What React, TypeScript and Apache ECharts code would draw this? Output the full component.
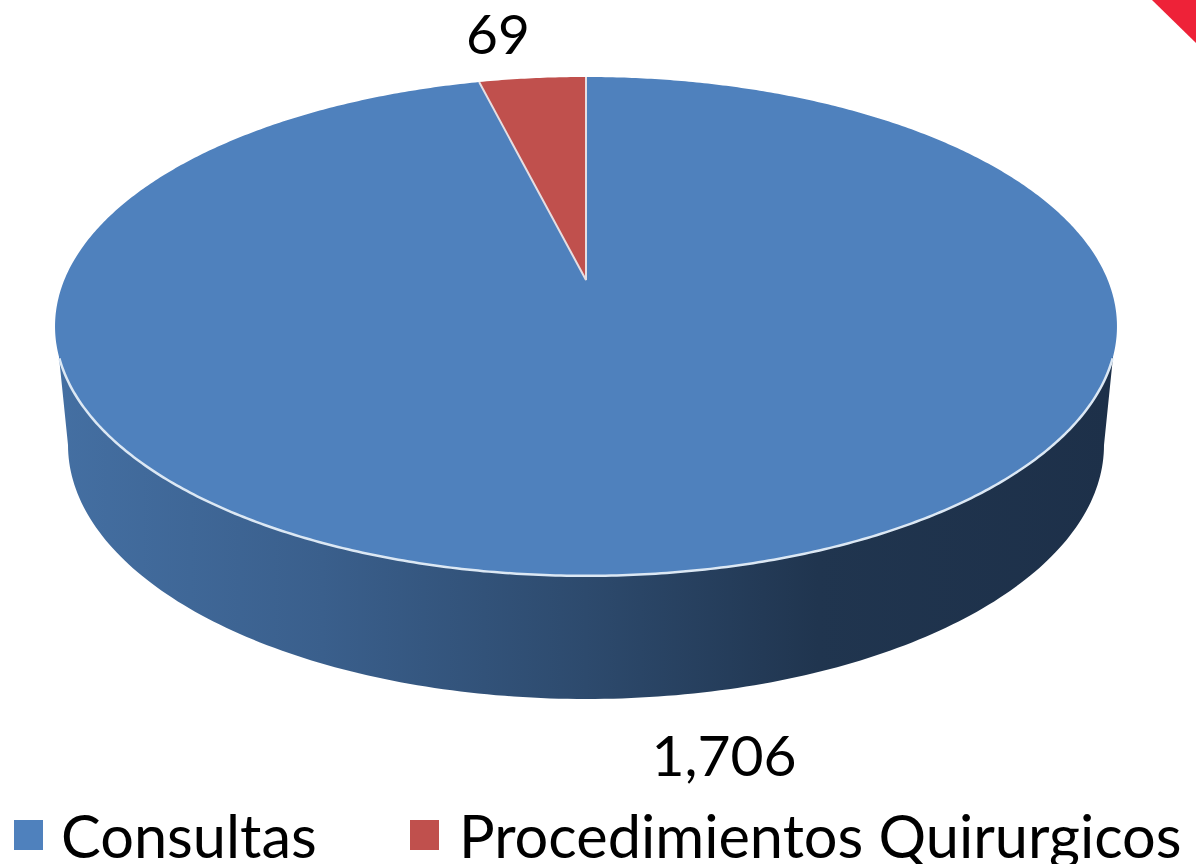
import React, { useEffect, useRef } from "react";
import * as echarts from "echarts";

const categories = ["Consultas", "Procedimientos Quirurgicos"];
const values = [1706, 69];
const valueLabels = ["1,706", "69"];
const colors = ["#4F81BD", "#C0504D"];

const FONT = "Lato";
const total = values.reduce((a, b) => a + b, 0);

// perspective projection of the pie's top disc
const CX = 586, VY = 280, A = 521.7, B = 240.8, K = 0.186;
const project = (deg: number): number[] => {
  const t = (deg * Math.PI) / 180;
  const x = Math.sin(t), y = Math.cos(t), d = 1 + K * y;
  return [CX + (A * x) / d, VY - (B * y) / d];
};
const arc = (from: number, to: number): number[][] => {
  const n = Math.max(2, Math.ceil(Math.abs(to - from) * 2));
  const pts: number[][] = [];
  for (let i = 0; i <= n; i++) pts.push(project(from + ((to - from) * i) / n));
  return pts;
};

const WALL_TOP = 357;
const wallPoints = (): number[][] => {
  const pts: number[][] = [];
  const cy = 445, a = 518, b = 254;
  for (let i = 0; i <= 180; i++) {
    const t = (i * Math.PI) / 180;
    pts.push([CX - a * Math.cos(t), cy + b * Math.sin(t)]);
  }
  pts.push([1113, WALL_TOP], [59, WALL_TOP]);
  return pts;
};

const labelPos = [
  { x: 724, y: 754, size: 57 },
  { x: 498, y: 33, size: 55 },
];

const makeRenderItem = (index: number) => (_params: any, api: any) => {
  const value = api.value(0);
  const start = (values.slice(0, index).reduce((a, b) => a + b, 0) / total) * 360;
  const end = start + (value / total) * 360;
  const rim = arc(start, end);
  const children: any[] = [];
  if (start <= 180 && end >= 180) {
    children.push({
      type: "polygon",
      shape: { points: wallPoints() },
      style: {
        fill: new echarts.graphic.LinearGradient(0, 0, 1, 0, [
          { offset: 0, color: "#446FA2" },
          { offset: 0.25, color: "#3A5F8C" },
          { offset: 0.5, color: "#2D4A6D" },
          { offset: 0.72, color: "#20354F" },
          { offset: 1, color: "#1D3049" },
        ]),
      },
    });
  }
  children.push({
    type: "polygon",
    shape: { points: [[CX, VY], ...rim] },
    style: { fill: colors[index] },
  });
  const front = rim.filter((p) => p[1] >= WALL_TOP);
  if (front.length > 1) {
    children.push({
      type: "polyline",
      shape: { points: front },
      style: { fill: "none", stroke: "#DCE8F4", lineWidth: 2.5 },
    });
  }
  if (index > 0) {
    children.push({
      type: "polyline",
      shape: { points: [rim[0], [CX, VY], rim[rim.length - 1]] },
      style: { fill: "none", stroke: "#E6DEE2", lineWidth: 2 },
    });
  }
  children.push({
    type: "text",
    style: {
      x: labelPos[index].x,
      y: labelPos[index].y,
      text: valueLabels[index],
      fill: "#000",
      font: `${labelPos[index].size}px ${FONT}`,
      align: "center",
      verticalAlign: "middle",
    },
  });
  return { type: "group", children };
};

export default function App() {
  const ref = useRef<HTMLDivElement>(null);
  useEffect(() => {
    const chart = echarts.init(ref.current!, null, { renderer: "svg" });
    const legendBase = {
      top: 800,
      itemWidth: 29,
      itemHeight: 30,
      icon: "rect",
    };
    const legendText = (gap: number) => ({
      fontFamily: FONT,
      fontSize: 59.5,
      color: "#000",
      padding: [0, 0, 0, gap],
    });
    chart.setOption({
      animation: false,
      backgroundColor: "#fff",
      legend: [
        { ...legendBase, left: 9, data: [categories[0]], textStyle: legendText(13) },
        { ...legendBase, left: 405, data: [categories[1]], textStyle: legendText(15) },
      ],
      graphic: [
        {
          type: "polygon",
          shape: { points: [[1152, 0], [1196, 0], [1196, 43]] },
          style: { fill: "#EE2238" },
        },
      ],
      series: categories.map((name, i) => ({
        type: "custom",
        name,
        coordinateSystem: "none",
        itemStyle: { color: colors[i] },
        renderItem: makeRenderItem(i),
        data: [[values[i]]],
      })),
    });
    return () => chart.dispose();
  }, []);
  return (
    <div
      ref={ref}
      style={{ position: "fixed", left: 0, top: 0, width: 1196, height: 864 }}
    />
  );
}
